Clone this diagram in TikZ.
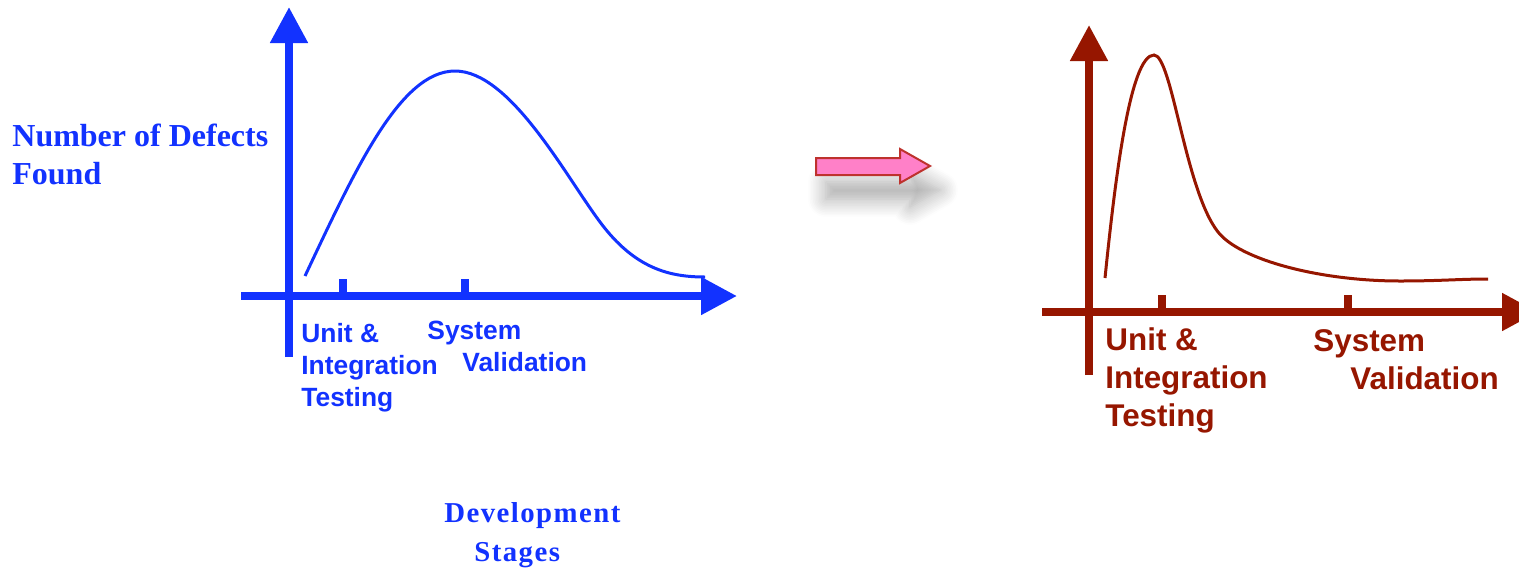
\documentclass[tikz,border=0pt]{standalone}
\usepackage{fontspec}
\setmainfont{Liberation Serif}
\setsansfont{Liberation Sans}
\usetikzlibrary{arrows.meta,shadows.blur}
\definecolor{defblue}{RGB}{18,50,255}
\definecolor{defred}{RGB}{150,22,0}
\definecolor{pinkfill}{RGB}{255,128,200}
\definecolor{pinkline}{RGB}{190,50,45}
\tikzset{
 axisB/.style={line width=4pt,defblue,-{Triangle[length=18pt,width=18pt]}},
 axisR/.style={line width=4pt,defred,-{Triangle[length=18pt,width=18pt]}},
 tickB/.style={line width=4pt,defblue},
 tickR/.style={line width=4pt,defred},
 crvB/.style={line width=1.5pt,defblue},
 crvR/.style={line width=1.5pt,defred},
 lblB/.style={font=\sffamily\bfseries\fontsize{13.2}{16}\selectfont,text=defblue,align=left,anchor=north west,inner sep=0pt},
 lblR/.style={font=\sffamily\bfseries\fontsize{15.7}{19}\selectfont,text=defred,align=left,anchor=north west,inner sep=0pt},
}
\begin{document}
\begin{tikzpicture}[x=.5pt,y=-.5pt]
 \useasboundingbox (0,0) rectangle (1519,568);
 \clip (0,0) rectangle (1519,568);
 % <<< left chart
 \draw[axisB] (289,357)--(289,7);
 \draw[axisB] (241,296)--(737,296);
 \draw[tickB] (343,296)--+(0,-17) (465,296)--+(0,-17);
 \draw[crvB] (305,276) .. controls (355,170) and (400,71) .. (455,71)
  .. controls (510,71) and (565,175) .. (600,222)
  .. controls (635,269) and (670,277) .. (705,277);
 \path
 (12,124) node[lblB,font=\bfseries\fontsize{16}{19}\selectfont] (ylab) {Number of Defects\\Found}
 (301,323) node[lblB] (unitB) {Unit \&\\Integration\\Testing}
 (427,321) node[lblB] (sysB) {System\\\hspace*{17.5pt}Validation}
 (444,502) node[lblB,font=\bfseries\fontsize{14.4}{19.5}\selectfont\addfontfeatures{LetterSpace=5}] (xlab) {Development\\\hspace*{15pt}Stages};
 % <<< pink arrow
 \filldraw[fill=pinkfill,draw=pinkline,line width=1pt,
  blur shadow={shadow xshift=5pt,shadow yshift=-12pt,shadow blur radius=9pt,shadow blur steps=12,shadow opacity=35}]
  (816,158)--(900,158)--(900,149)--(930,166)--(900,183)--(900,175)--(816,175)--cycle;
 % <<< right chart
 \draw[axisR] (1089,375)--(1089,25);
 \draw[axisR] (1042,312)--(1538,312);
 \draw[tickR] (1162,312)--+(0,-17) (1348,312)--+(0,-17);
 \draw[crvR] (1105,278) .. controls (1115,180) and (1130,55) .. (1154,55)
  .. controls (1172,55) and (1185,190) .. (1218,232)
  .. controls (1240,260) and (1320,281) .. (1400,281)
  .. controls (1440,281) and (1460,279) .. (1488,279);
 \path
 (1105,327) node[lblR] (unitR) {Unit \&\\Integration\\Testing}
 (1313,329) node[lblR] (sysR) {System\\\hspace*{18.5pt}Validation};
\end{tikzpicture}
\end{document}
